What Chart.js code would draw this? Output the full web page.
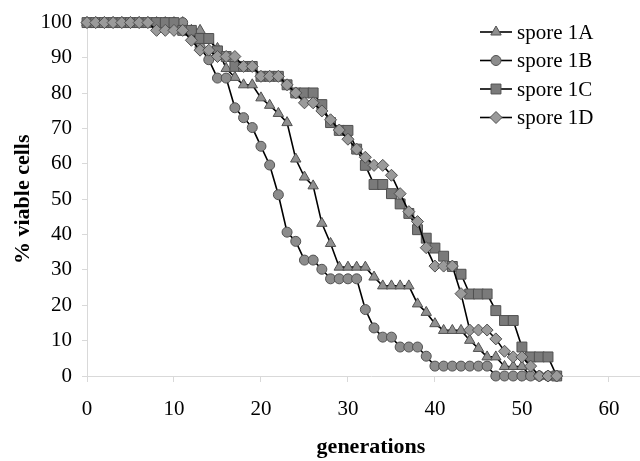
<!DOCTYPE html>
<html><head><meta charset="utf-8">
<script src="https://cdn.jsdelivr.net/npm/chart.js@4/dist/chart.umd.min.js"></script>
<style>html,body{margin:0;padding:0;background:#fff;overflow:hidden}#clip{width:640px;height:461px;overflow:hidden;position:relative}#wrap{width:663px;height:461px;position:relative}</style>
</head><body><div id="clip"><div id="wrap"><canvas id="c"></canvas></div></div>
<script>
const generations = [0,1,2,3,4,5,6,7,8,9,10,11,12,13,14,15,16,17,18,19,20,21,22,23,24,25,26,27,28,29,30,31,32,33,34,35,36,37,38,39,40,41,42,43,44,45,46,47,48,49,50,51,52,53,54];
const spore1A = [100,100,100,100,100,100,100,100,100,100,100,100,97.8,97.8,95,92.7,87,84.5,82.4,82.4,78.7,76.6,74.3,71.7,61.4,56.3,53.8,43.2,37.5,30.8,30.8,30.8,30.8,28,25.5,25.5,25.5,25.5,20.4,18,14.8,12.9,12.9,12.9,10.1,7.8,5.4,5.4,2.7,2.7,2.7,0,0,0,0];
const spore1B = [100,100,100,100,100,100,100,100,100,100,100,100,97.8,93,89.5,84.3,84.3,75.9,73.1,70.3,65,59.7,51.3,40.7,38.1,32.8,32.8,30.2,27.5,27.5,27.5,27.5,18.8,13.6,11,11,8.2,8.2,8.2,5.6,2.8,2.8,2.8,2.8,2.8,2.8,2.8,0,0,0,0,0,0,0,0];
const spore1C = [100,100,100,100,100,100,100,100,100,100,100,97.8,97.8,95.5,95.5,92,90.4,87.6,87.6,87.6,84.8,84.8,84.8,82.4,80.1,80.1,80.1,76.8,71.7,69.5,69.5,64.2,59.6,54.2,54.2,51.6,48.7,46,41.4,39,36.2,33.9,31,28.8,23.2,23.2,23.2,18.5,15.7,15.7,8.2,5.4,5.4,5.4,0];
const spore1D = [100,100,100,100,100,100,100,100,97.8,97.8,97.8,97.8,95,92.2,92.2,90.4,90.4,90.4,87.6,87.6,84.8,84.8,84.8,82.4,80.1,77.3,77.3,75,72.5,69.6,67,64.2,61.9,59.6,59.6,56.8,51.6,46.5,43.7,36.3,31.1,31.1,31.1,23.3,13,13,13,10.5,7,5.4,5.4,2.8,0,0,0];
const seriesNames = ['spore 1A','spore 1B','spore 1C','spore 1D'];
const xTicks = [0,10,20,30,40,50,60];
const yTicks = [0,10,20,30,40,50,60,70,80,90,100];

const FONT = '"Liberation Serif","Times New Roman",serif';
function pts(vals){ return vals.map((v,i)=>({x:generations[i], y:v})); }
const styles = [
  {pointStyle:'triangle', radius:6, fill:'#8f8f8f', order:4},
  {pointStyle:'circle', radius:5, fill:'#8c8c8c', order:3},
  {pointStyle:'rect', radius:7, fill:'#7a7a7a', order:2},
  {pointStyle:'rectRot', radius:6, fill:'#9a9a9a', order:1}
];
const allVals = [spore1A, spore1B, spore1C, spore1D];
const datasets = allVals.map((vals,i)=>({
  label: seriesNames[i], data: pts(vals),
  borderColor:'#000', borderWidth:1.6,
  pointStyle: styles[i].pointStyle, pointRadius: styles[i].radius, pointHoverRadius: styles[i].radius,
  pointBackgroundColor: styles[i].fill, pointBorderColor:'#505050', pointBorderWidth:1,
  order: styles[i].order, clip:false, tension:0, showLine:true
}));

const legendPlugin = {
  id:'customLegend',
  afterDraw(chart){
    const ctx = chart.ctx;
    const rows = [32, 60.5, 89, 117.5];
    ctx.save();
    seriesNames.forEach((name,i)=>{
      const y = rows[i];
      ctx.strokeStyle='#000'; ctx.lineWidth=1.6;
      ctx.beginPath(); ctx.moveTo(480,y); ctx.lineTo(512,y); ctx.stroke();
      ctx.fillStyle = styles[i].fill; ctx.strokeStyle='#505050'; ctx.lineWidth=1;
      Chart.helpers.drawPoint(ctx, {pointStyle:styles[i].pointStyle, radius:styles[i].radius, rotation:0, borderWidth:1}, 496, y);
      ctx.fillStyle='#000'; ctx.font = '21px '+FONT; ctx.textBaseline='middle'; ctx.textAlign='left';
      ctx.fillText(name, 517, y+1);
    });
    ctx.restore();
  }
};

new Chart(document.getElementById('c'), {
  type:'scatter',
  data:{datasets},
  options:{
    responsive:true, maintainAspectRatio:false, animation:false,
    layout:{padding:{top:19,right:0,bottom:0,left:0}},
    plugins:{legend:{display:false}, tooltip:{enabled:false}},
    scales:{
      x:{type:'linear', min:0, max:65.3,
        afterBuildTicks(s){ s.ticks = xTicks.map(v=>({value:v})); },
        afterFit(s){ s.height = 85; },
        ticks:{font:{family:FONT,size:21}, color:'#000', padding:15, maxRotation:0, autoSkip:false},
        grid:{drawOnChartArea:false, drawTicks:true, tickLength:6, color:'#d9d9d9'},
        border:{color:'#d9d9d9', width:1},
        title:{display:true, text:'generations', font:{family:FONT,size:22,weight:'bold'}, color:'#000', padding:{top:0,bottom:0}}
      },
      y:{type:'linear', min:0, max:100,
        afterBuildTicks(s){ s.ticks = yTicks.map(v=>({value:v})); },
        afterFit(s){ s.width = 87; },
        ticks:{font:{family:FONT,size:21}, color:'#000', padding:10},
        grid:{drawOnChartArea:false, drawTicks:true, tickLength:5, color:'#d9d9d9'},
        border:{color:'#d9d9d9', width:1},
        title:{display:true, text:'% viable cells', font:{family:FONT,size:22,weight:'bold'}, color:'#000', padding:{top:10,bottom:0}}
      }
    }
  },
  plugins:[legendPlugin]
});
</script></body></html>
